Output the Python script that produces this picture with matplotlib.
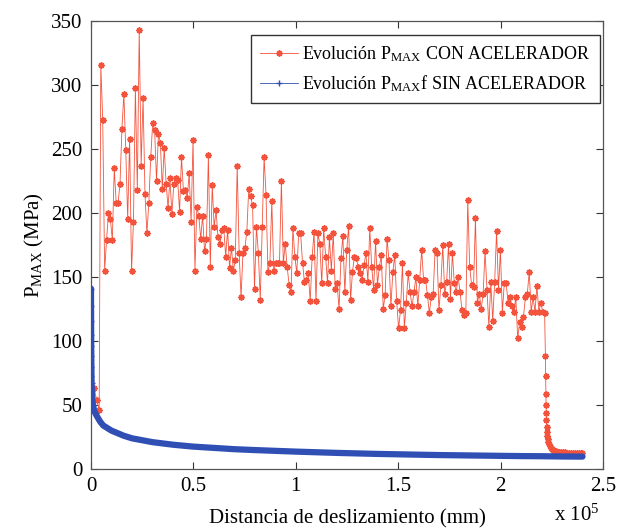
import numpy as np
import matplotlib
matplotlib.use("Agg")
import matplotlib.pyplot as plt
from matplotlib.ticker import FuncFormatter

plt.rcParams['font.family'] = ['Liberation Serif', 'DejaVu Serif']
plt.rcParams['mathtext.fontset'] = 'custom'
plt.rcParams['mathtext.rm'] = 'Liberation Serif'
plt.rcParams['mathtext.it'] = 'Liberation Serif:italic'

# distances are in units of 1e5 mm (axis shows "x 10^5")
# --- P_MAX with accelerator ---
con_head_x = [0.0, 0.015, 0.028, 0.040]
con_head_y = [62, 63, 54, 46]

con_main_y = [
    316, 273, 155, 179, 200, 195, 179, 235, 208, 208, 223, 266, 293, 249, 195, 258,
    155, 193, 298, 218, 343, 237, 290, 215, 184, 208, 244, 270, 265, 225, 262, 255,
    219, 251, 223, 204, 227, 199, 223, 227, 226, 201, 244, 217, 218, 212, 231, 193,
    257, 155, 205, 198, 180, 198, 170, 180, 245, 158, 222, 189, 202, 181, 176,
    187, 188, 166, 187, 157, 173, 155, 163, 237, 169, 134, 169, 173, 185, 219, 213,
    206, 141, 189, 169, 132, 189, 244, 214, 154, 161, 209, 155, 161, 161, 161, 225,
    161, 176, 158, 144, 138, 188, 166, 153, 184, 184, 161, 146, 148, 153, 131, 166,
    185, 131, 184, 176, 145, 188, 166, 145, 181, 155, 184, 141, 145, 125, 165, 182,
    138, 171, 190, 132,
    154, 166, 165, 158, 153, 148, 159, 169, 146, 188, 158, 140, 178, 144, 158, 167,
    125, 136, 180, 163, 127, 154, 167, 131, 110, 124, 161, 110, 130, 153, 138, 127,
    138, 150, 127, 148, 171, 148, 148, 136, 122, 134, 137, 171, 169, 124, 144, 175,
    137, 146, 176, 133, 169, 145, 138, 150, 138, 124, 120, 122, 210, 158,
    144, 142, 196, 130, 137, 125, 137, 170, 140, 111, 146, 116, 146, 186, 140, 171,
    122, 145, 145, 130, 134, 127, 123, 134, 102, 115, 111, 119, 134, 137, 154, 123,
    134, 123, 143, 123, 130, 123, 122,
]
con_main_start, con_main_end = 0.048, 2.215

con_tail_x = [2.219, 2.220, 2.221, 2.222, 2.223, 2.224, 2.225, 2.226, 2.228, 2.230,
              2.233, 2.236, 2.240, 2.245, 2.250, 2.256, 2.262, 2.270, 2.278, 2.286,
              2.295, 2.305, 2.315, 2.325, 2.335, 2.345, 2.355, 2.365, 2.375, 2.385,
              2.395, 2.400]
con_tail_y = [88, 73, 59, 50, 44, 38, 33, 29, 26, 23.5,
              21, 19.5, 18, 16.5, 15.5, 14.8, 14.2, 13.8, 13.5, 13.3,
              13.1, 13.0, 13.0, 12.9, 12.9, 12.8, 12.8, 12.8, 12.8, 12.7,
              12.7, 12.7]

# --- P_MAX without accelerator ---
sin_x = [0.0000, 0.0003, 0.0006, 0.0009, 0.0012, 0.0015, 0.0020, 0.0025, 0.0030,
         0.0040, 0.0050, 0.0070, 0.010, 0.015, 0.020, 0.030, 0.045, 0.060, 0.080,
         0.10, 0.13, 0.16, 0.20, 0.25, 0.30, 0.35, 0.40, 0.50, 0.60, 0.70, 0.80,
         0.90, 1.00, 1.10, 1.20, 1.30, 1.40, 1.50, 1.60, 1.70, 1.80, 1.90, 2.00,
         2.10, 2.20, 2.30, 2.40]
sin_y = [141, 127, 116, 105, 96, 88, 80, 73, 67,
         61, 57, 53, 50, 46, 44, 41, 37, 34, 32,
         30, 28, 26, 24, 22.5, 21, 20, 19, 17.5, 16.5, 15.5, 14.8,
         14.2, 13.6, 13.1, 12.6, 12.2, 11.8, 11.5, 11.2, 10.9, 10.7, 10.5, 10.3,
         10.1, 10.0, 9.8, 9.7]

con_main_x = np.linspace(con_main_start, con_main_end, len(con_main_y))
con_x = np.concatenate([con_head_x, con_main_x, con_tail_x])
con_y = np.concatenate([con_head_y, con_main_y, con_tail_y])

red = '#f3533d'
blue = '#2f4fb4'
asterisk = (8, 2, 0)

fig = plt.figure(figsize=(6.3, 5.28), dpi=100)
ax = fig.add_axes([0.1444, 0.1117, 0.8127, 0.8485])

ax.plot(con_x, con_y, color=red, lw=0.6, marker=asterisk, ms=4.5, mew=1.1,
        label='Evolución P$_{\\mathrm{MAX}}$ CON ACELERADOR', zorder=2)
# dense markers of the second series merge into a thick band
ax.plot(sin_x, sin_y, color=blue, lw=4.5, solid_capstyle='round', zorder=3)
ax.plot(sin_x[:13], sin_y[:13], color=blue, lw=0, marker='+', ms=5, mew=1, zorder=3)
ax.plot([], [], color=blue, lw=0.6, marker='+', ms=5, mew=1,
        label='Evolución P$_{\\mathrm{MAX}}$f SIN ACELERADOR')

ax.set_xlim(0, 2.5)
ax.set_ylim(0, 350)
ax.set_xticks([0, 0.5, 1, 1.5, 2, 2.5])
ax.set_yticks(np.arange(0, 351, 50))
ax.xaxis.set_major_formatter(FuncFormatter(lambda v, p: f'{v:g}'))
ax.tick_params(direction='in', top=True, right=True, length=5, width=0.8,
               labelsize=15, colors='#333333', labelcolor='black', pad=6)
for s in ax.spines.values():
    s.set_color('#555555')
    s.set_linewidth(0.9)

ax.set_xlabel('Distancia de deslizamiento (mm)', fontsize=15, labelpad=9)
ax.set_ylabel('P$_{\\mathrm{MAX}}$ (MPa)', fontsize=15, labelpad=4)
fig.text(0.88, 0.005, 'x 10$^{5}$', fontsize=15, ha='left', va='bottom')

leg = ax.legend(loc='upper right', bbox_to_anchor=(0.994, 0.969), borderaxespad=0,
                fontsize=13, fancybox=False, framealpha=1, edgecolor='#333333',
                handlelength=2.1, handletextpad=0.25, borderpad=0.5, labelspacing=0.55)
leg.get_frame().set_linewidth(1.0)

fig.savefig('out.png', dpi=100)
